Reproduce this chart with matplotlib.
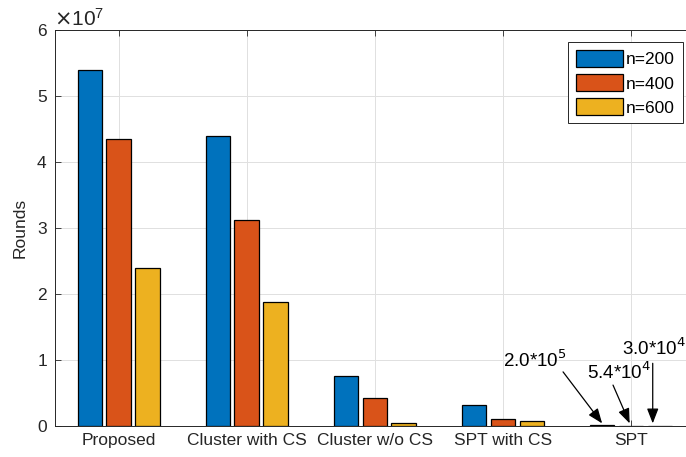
import matplotlib
matplotlib.use("Agg")
import matplotlib.pyplot as plt
import numpy as np
from matplotlib.ticker import ScalarFormatter

plt.rcParams['font.family'] = ['Liberation Sans', 'DejaVu Sans']

categories = ["Proposed", "Cluster with CS", "Cluster w/o CS", "SPT with CS", "SPT"]
series_names = ["n=200", "n=400", "n=600"]
n200 = [5.39e7, 4.39e7, 0.76e7, 0.32e7, 2.0e5]
n400 = [4.35e7, 3.12e7, 0.43e7, 0.10e7, 5.4e4]
n600 = [2.39e7, 1.88e7, 0.045e7, 0.07e7, 3.0e4]
colors = ["#0072BD", "#D95319", "#EDB120"]
annot_texts = ["2.0*10$^{5}$", "5.4*10$^{4}$", "3.0*10$^{4}$"]
# annotation layout (data coords): text anchor, arrow start, arrow tip
text_xy = [(4.0, 0.83e7), (4.66, 0.65e7), (4.93, 1.01e7)]
arrow_start = [(4.47, 0.82e7), (4.86, 0.62e7), (5.17, 0.95e7)]
arrow_tip = [(4.775, 0.04e7), (4.99, 0.04e7), (5.17, 0.04e7)]

FS = 12.5
fig = plt.figure(figsize=(6.86, 4.57), dpi=100)
ax = fig.add_axes([54.5/686, 31/457, (695-54.5)/686, 396/457])

x = np.arange(1, len(categories) + 1)
offset = 0.225
width = 0.19
series = [n200, n400, n600]
for i, (vals, name, c) in enumerate(zip(series, series_names, colors)):
    ax.bar(x + (i - 1) * offset, vals, width, color=c, edgecolor='black',
           linewidth=0.9, label=name, zorder=3)

ax.set_xlim(0.5, 5.5)
ax.set_ylim(0, 6e7)
ax.set_xticks(x)
ax.set_xticklabels(categories)
ax.set_yticks(np.arange(0, 7e7, 1e7))
fmt = ScalarFormatter(useMathText=True)
fmt.set_powerlimits((0, 0))
ax.yaxis.set_major_formatter(fmt)
ax.yaxis.get_offset_text().set_fontsize(15)
ax.yaxis.get_offset_text().set_color('#262626')
ax.tick_params(axis='both', direction='in', top=True, right=True, labelsize=FS,
               colors='#262626', length=4, width=0.6, pad=5)
ax.set_ylabel("Rounds", fontsize=FS, color='#262626', labelpad=6)
ax.grid(True, color='#e0e0e0', linewidth=0.7, zorder=0)
ax.set_axisbelow(True)
for s in ax.spines.values():
    s.set_color('#262626')
    s.set_linewidth(0.7)

for t, tp, st, tip in zip(annot_texts, text_xy, arrow_start, arrow_tip):
    ax.text(tp[0], tp[1], t, fontsize=13.5, ha='left', va='bottom', color='black')
    ax.annotate('', xy=tip, xytext=st,
                arrowprops=dict(arrowstyle='-|>,head_length=0.9,head_width=0.35',
                                color='black', lw=0.9, shrinkA=0, shrinkB=0))

leg = ax.legend(loc='upper right', fontsize=FS, handlelength=2.7, handleheight=1.15,
                borderaxespad=0.7, fancybox=False, framealpha=1, edgecolor='#262626',
                handletextpad=0.2, labelspacing=0.38, borderpad=0.45)
leg.get_frame().set_linewidth(0.7)

fig.savefig("out.png", dpi=100)
